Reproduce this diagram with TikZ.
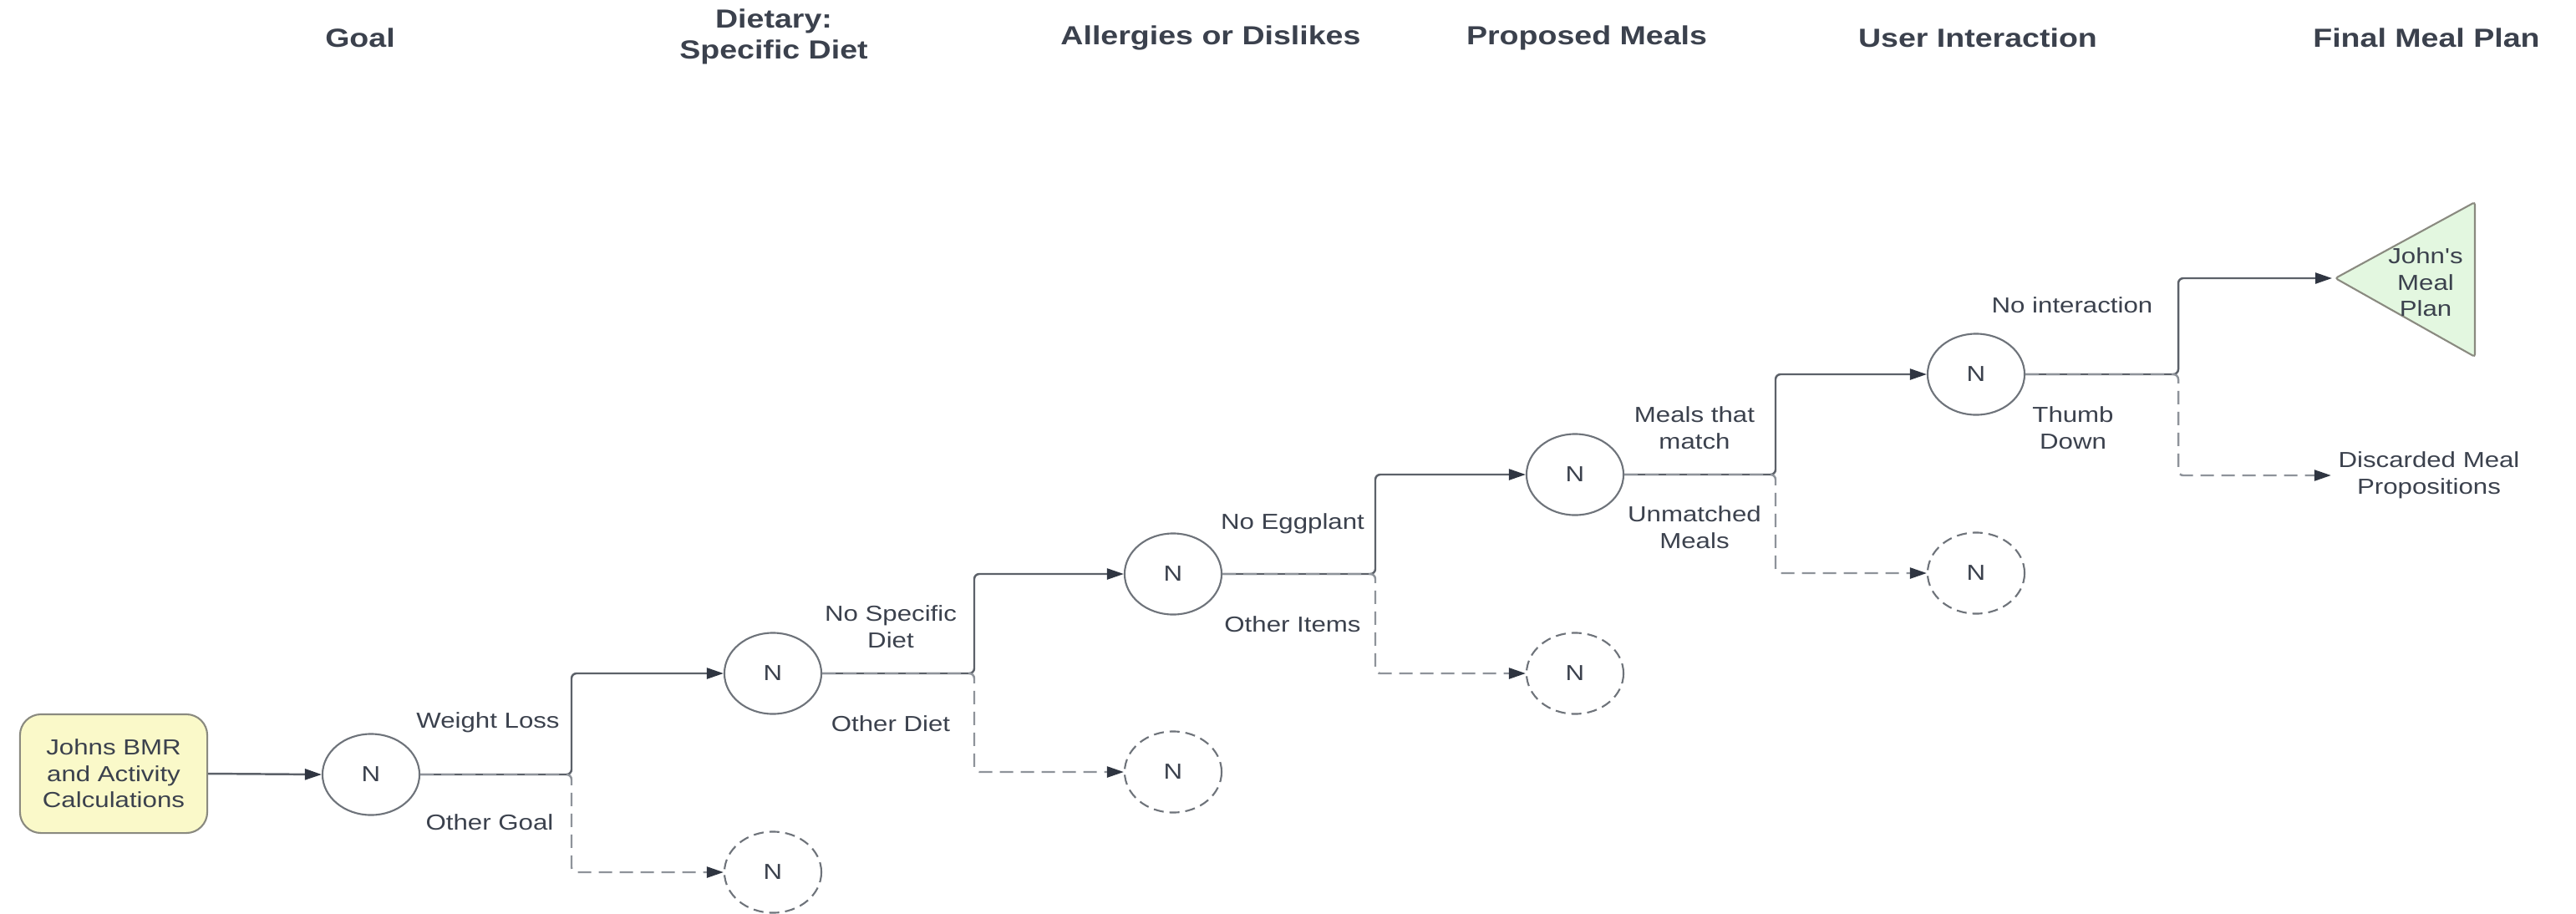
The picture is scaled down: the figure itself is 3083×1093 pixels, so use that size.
\documentclass[tikz,border=0pt]{standalone}
\usepackage{fontspec}
\newfontfamily\labfont[FakeStretch=1.2]{Liberation Sans}
\usetikzlibrary{arrows.meta,shapes.geometric,calc}
\definecolor{txt}{HTML}{3B414D}
\definecolor{lineC}{HTML}{5C6169}
\definecolor{dashC}{HTML}{8E939A}
\definecolor{arrC}{HTML}{2F3541}
\definecolor{yel}{HTML}{FAF9C9}
\definecolor{grn}{HTML}{E3F7E0}
\definecolor{circC}{HTML}{6E737A}
\definecolor{boxC}{HTML}{8A8A80}
\begin{document}
\begin{tikzpicture}[x=0.01cm,y=-0.01cm,
  lab/.style={font=\labfont\fontsize{7.4}{9}\selectfont, text=txt, align=center, inner sep=0pt},
  ttl/.style={font=\labfont\bfseries\fontsize{8.9}{10.5}\selectfont, text=txt, align=center, inner sep=0pt},
  nd/.style={ellipse, draw=circC, line width=0.6pt, minimum width=1.16cm, minimum height=0.97cm, inner sep=0pt, font=\labfont\fontsize{7.4}{9}\selectfont, text=txt},
  ndd/.style={nd, dash pattern=on 0.12cm off 0.07cm},
  link/.style={draw=lineC, line width=0.7pt, rounded corners=0.06cm, -{Triangle[length=0.2cm,width=0.13cm,color=arrC]}},
  dlink/.style={link, draw=dashC, dash pattern=on 0.16cm off 0.09cm}
]
\useasboundingbox[fill=white] (0,0) rectangle (3083,1093);

% titles
\node[ttl] (t1) at (431,45) {Goal};
\node[ttl] (t2) at (926,44) {Dietary:\\Specific Diet};
\node[ttl] (t3) at (1449,45) {Allergies or Dislikes};
\node[ttl] (t4) at (1899,45) {Proposed Meals};
\node[ttl] (t5) at (2367,45) {User Interaction};
\node[ttl] (t6) at (2904,45) {Final Meal Plan};

% start
\node[lab, draw=boxC, line width=0.6pt, fill=yel, rounded corners=0.25cm, minimum width=2.24cm, minimum height=1.42cm] (start) at (136,926) {Johns BMR\\and Activity\\Calculations};

% decision nodes
\node[nd] (n1) at (444,927) {N};
\node[nd] (n2) at (925,806) {N};
\node[ndd] (n2d) at (925,1044) {N};
\node[nd] (n3) at (1404,687) {N};
\node[ndd] (n3d) at (1404,924) {N};
\node[nd] (n4) at (1885,568) {N};
\node[ndd] (n4d) at (1885,806) {N};
\node[nd] (n5) at (2365,448) {N};
\node[ndd] (n5d) at (2365,686) {N};

% final plan triangle
\draw[draw=boxC, fill=grn, line width=0.6pt, rounded corners=0.03cm] (2795,333) -- (2962,242) -- (2962,427) -- cycle;
\coordinate (tip) at (2791,333);
\node[lab] (plan) at (2903,338) {John's\\Meal\\Plan};
\node[lab, inner sep=0.08cm] (disc) at (2907,569) {Discarded Meal\\Propositions};

% branch points
\coordinate (b1) at (684,927);
\coordinate (b2) at (1166,806);
\coordinate (b3) at (1646,687);
\coordinate (b4) at (2125,568);
\coordinate (b5) at (2607,448);

% connectors
\draw[link] (start.east) -- (n1.west);
\draw[link] (n1.east) -- (b1) |- (n2.west);
\draw[dlink] (n1.east) -- (b1) |- (n2d.west);
\draw[link] (n2.east) -- (b2) |- (n3.west);
\draw[dlink] (n2.east) -- (b2) |- (n3d.west);
\draw[link] (n3.east) -- (b3) |- (n4.west);
\draw[dlink] (n3.east) -- (b3) |- (n4d.west);
\draw[link] (n4.east) -- (b4) |- (n5.west);
\draw[dlink] (n4.east) -- (b4) |- (n5d.west);
\draw[link] (n5.east) -- (b5) |- (tip);
\draw[dlink] (n5.east) -- (b5) |- (disc.west);

% labels
\node[lab] (l1a) at (584,865) {Weight Loss};
\node[lab] (l1b) at (586,984) {Other Goal};
\node[lab] (l2a) at (1066,750) {No Specific\\Diet};
\node[lab] (l2b) at (1066,866) {Other Diet};
\node[lab] (l3a) at (1547,627) {No Eggplant};
\node[lab] (l3b) at (1547,747) {Other Items};
\node[lab] (l4a) at (2028,512) {Meals that\\match};
\node[lab] (l4b) at (2028,631) {Unmatched\\Meals};
\node[lab] (l5a) at (2480,365) {No interaction};
\node[lab] (l5b) at (2481,512) {Thumb\\Down};
\end{tikzpicture}
\end{document}
